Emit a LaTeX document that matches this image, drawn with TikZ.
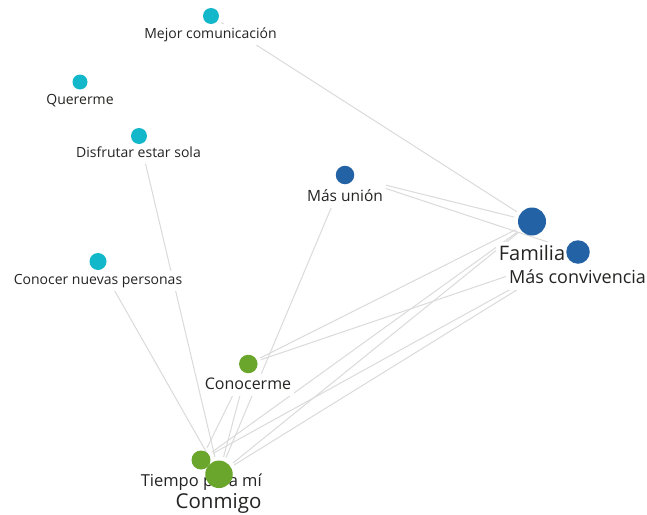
\documentclass[tikz,border=0pt]{standalone}
\usepackage{fontspec}
\setmainfont{Open Sans}
\usetikzlibrary{backgrounds}

\definecolor{cian}{HTML}{12B8CA}
\definecolor{azul}{HTML}{2462A6}
\definecolor{verde}{HTML}{6AA62B}
\definecolor{gris}{HTML}{DADADA}
\definecolor{texto}{HTML}{252423}

\tikzset{
  punto/.style 2 args={circle, fill=#1, inner sep=0pt, minimum size=#2},
  etiqueta/.style={fill=white, text=texto, inner sep=3pt, anchor=base,
    text depth=4pt, font=\fontsize{#1}{#1}\selectfont},
  enlace/.style={draw=gris, line width=1pt, shorten <=4pt, shorten >=4pt}
}

\begin{document}
\begin{tikzpicture}[x=1pt, y=-1pt]

\useasboundingbox (0,0) rectangle (647,514);

% etiquetas
\node[etiqueta=14] (lmejor) at (210.5,38) {Mejor comunicación};
\node[etiqueta=14] (lquererme) at (80,104) {Quererme};
\node[etiqueta=14] (ldisfrutar) at (138.5,157) {Disfrutar estar sola};
\node[etiqueta=14] (lnuevas) at (98,284) {Conocer nuevas personas};
\node[etiqueta=15.5, text height=22pt] (lunion) at (345,201) {Más unión};
\node[etiqueta=20] (lfamilia) at (532,260) {Familia};
\node[etiqueta=18] (lconvivencia) at (577.5,283) {Más convivencia};
\node[etiqueta=16] (lconocerme) at (248,389) {Conocerme};
\node[etiqueta=16.5] (ltiempo) at (201.3,486) {Tiempo para mí};
\node[etiqueta=20.5] (lconmigo) at (218.5,508) {Conmigo};

% puntos
\node[punto={cian}{16}] (mejor) at (211,16) {};
\node[punto={cian}{15}] (quererme) at (80,82) {};
\node[punto={cian}{16}] (disfrutar) at (139,136) {};
\node[punto={cian}{17}] (nuevas) at (98,261.5) {};
\node[punto={azul}{18.5}] (union) at (345,175) {};
\node[punto={azul}{28}] (familia) at (532,221.5) {};
\node[punto={azul}{23.5}] (convivencia) at (578,252) {};
\node[punto={verde}{18.5}] (conocerme) at (248.3,364) {};
\node[punto={verde}{19}] (tiempo) at (201,460) {};
\node[punto={verde}{27.5}] (conmigo) at (219,474.3) {};

\begin{scope}[on background layer]
\foreach \a/\b in {mejor/familia, union/familia, union/convivencia, union/conmigo,
    disfrutar/conmigo, nuevas/conmigo, conocerme/familia, conocerme/convivencia,
    conocerme/tiempo, conocerme/conmigo, familia/tiempo, familia/conmigo,
    convivencia/tiempo, convivencia/conmigo}
  \draw[enlace] (\a) -- (\b);
\end{scope}

\end{tikzpicture}
\end{document}
